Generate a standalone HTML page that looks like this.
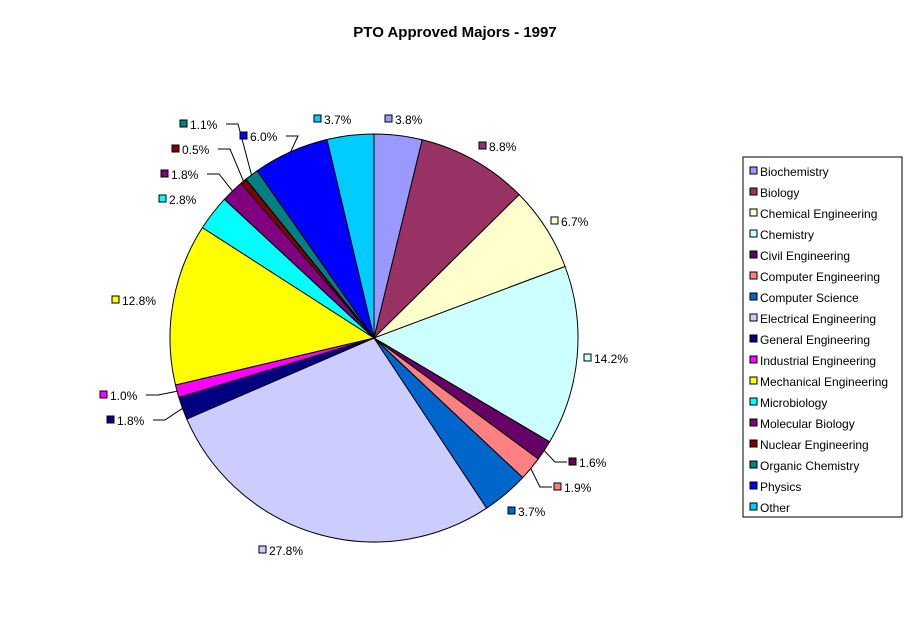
<!DOCTYPE html>
<html><head><meta charset="utf-8"><style>
body{margin:0;background:#fff;font-family:"Liberation Sans",Arial,sans-serif}
svg text{font-family:"Liberation Sans",Arial,sans-serif}
</style></head><body>
<svg id="c" width="911" height="623" xmlns="http://www.w3.org/2000/svg">
<rect width="911" height="623" fill="#fff"/>
<text x="455" y="37" text-anchor="middle" font-size="15" font-weight="bold">PTO Approved Majors - 1997</text>
<g id="pie"></g><g id="lbl"></g>
<g id="legend"><rect x="743" y="157" width="159" height="360" fill="#fff" stroke="#000"/></g>
</svg>
<script>
const categories=["Biochemistry","Biology","Chemical Engineering","Chemistry","Civil Engineering","Computer Engineering","Computer Science","Electrical Engineering","General Engineering","Industrial Engineering","Mechanical Engineering","Microbiology","Molecular Biology","Nuclear Engineering","Organic Chemistry","Physics","Other"];
const values=[3.8,8.8,6.7,14.2,1.6,1.9,3.7,27.8,1.8,1.0,12.8,2.8,1.8,0.5,1.1,6.0,3.7];
const colors=["#9999FF","#993366","#FFFFCC","#CCFFFF","#660066","#FF8080","#0066CC","#CCCCFF","#000080","#FF00FF","#FFFF00","#00FFFF","#800080","#800000","#008080","#0000FF","#00CCFF"];
const labelPos=[[389,119],[483,146],[555,221],[588,358],[573,462],[558,487],[512,511],[263,550],[111,420],[104,395],[116,300],[163,199],[165,174],[176,149],[184,124],[244,136],[318,119]];
const leader=[0,0,0,0,1,1,0,0,1,1,0,0,1,1,1,1,0];
const NS="http://www.w3.org/2000/svg";
const cx=374,cy=338,R=204;
const total=values.reduce((a,b)=>a+b,0);
function mk(t,a,p){const e=document.createElementNS(NS,t);for(const k in a)e.setAttribute(k,a[k]);p.appendChild(e);return e;}
const pie=document.getElementById('pie'),lbl=document.getElementById('lbl'),leg=document.getElementById('legend');
function pt(a,r){return [cx+r*Math.sin(a),cy-r*Math.cos(a)];}
let acc=0;
values.forEach((v,i)=>{
  const a0=acc/total*2*Math.PI;acc+=v;const a1=acc/total*2*Math.PI;
  const p0=pt(a0,R),p1=pt(a1,R);const large=(a1-a0)>Math.PI?1:0;
  const s=mk('path',{d:`M${cx},${cy}L${p0[0]},${p0[1]}A${R},${R} 0 ${large} 1 ${p1[0]},${p1[1]}Z`,fill:colors[i],stroke:'#000','stroke-width':1},pie);
  
  
  const [lx,ly]=labelPos[i];
  const txt=v.toFixed(1)+'%';
  const g=mk('g',{},lbl);
  
  
  mk('rect',{x:lx-4,y:ly-4,width:7,height:7,fill:colors[i],stroke:'#000','stroke-width':1},g);
  mk('text',{x:lx+6,y:ly+5,'font-size':12},g).textContent=txt;
  if(leader[i]){
    const am=(a0+a1)/2;const e=pt(am,R);
    const right=e[0]>lx;
    const sx=right?lx+42:lx-6;const hx=right?sx+12:sx-12;
    const l=mk('polyline',{points:`${sx},${ly} ${hx},${ly} ${e[0]},${e[1]}`,fill:'none',stroke:'#000','stroke-width':1},lbl);
    
    
  }
  const ly2=171+i*21;
  const lg=mk('g',{},leg);
  
  
  mk('rect',{x:750,y:ly2-4,width:7,height:7,fill:colors[i],stroke:'#000','stroke-width':1},lg);
  mk('text',{x:760,y:ly2+5,'font-size':12},lg).textContent=categories[i];
});
</script>
</body></html>
